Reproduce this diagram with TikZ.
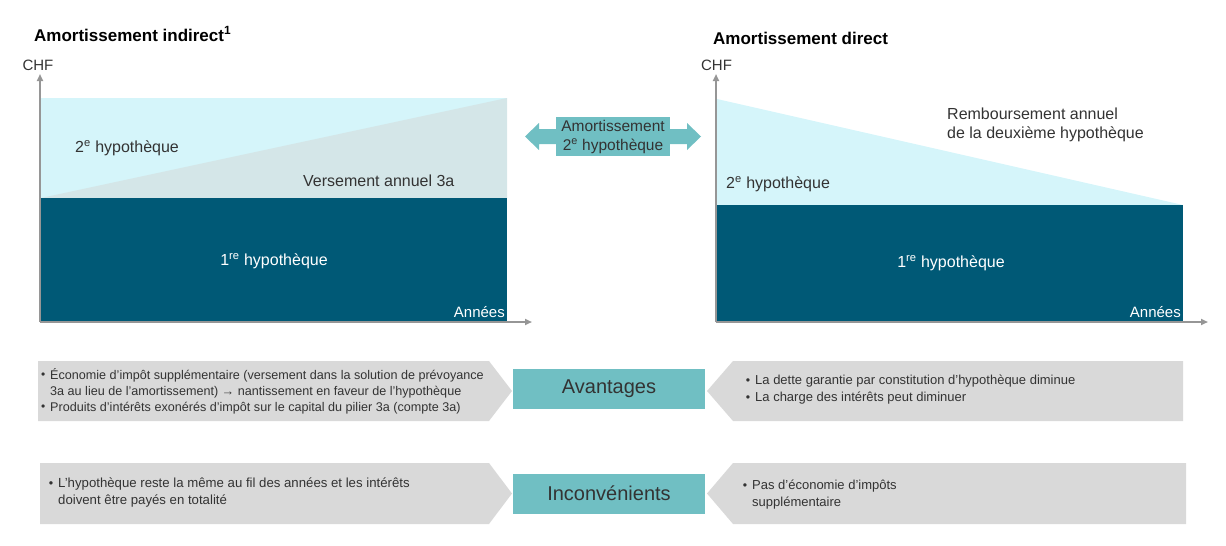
\documentclass[tikz,border=0pt]{standalone}
\usepackage{fontspec}
\setmainfont{Liberation Sans}
\usetikzlibrary{arrows.meta}
\definecolor{darkteal}{RGB}{0,89,118}
\definecolor{lightcyan}{RGB}{213,245,250}
\definecolor{greyteal}{RGB}{212,230,232}
\definecolor{tealbox}{RGB}{112,191,195}
\definecolor{panelgrey}{RGB}{217,217,217}
\definecolor{axisgrey}{RGB}{150,150,150}
\definecolor{txt}{RGB}{51,51,51}
\newcommand\bul{\llap{\raisebox{0.05ex}{\scalebox{0.95}{•}}\hspace{5pt}}}
\tikzset{
  axis/.style={draw=axisgrey, line width=1.8pt, -{Triangle[length=7pt,width=6pt]}},
  lbl/.style={inner sep=0pt, text=txt, font=\fontsize{16}{19}\selectfont},
  wlbl/.style={inner sep=0pt, text=white, font=\fontsize{16}{19}\selectfont},
  title/.style={inner sep=0pt, text=black, font=\fontsize{17}{20}\selectfont\bfseries},
  panel/.style={fill=panelgrey, draw=none},
  keybox/.style={fill=tealbox, draw=none, text=txt, inner sep=0pt, font=\fontsize{20}{24}\selectfont},
  bodytxt/.style={inner sep=0pt, text=txt, align=left},
}
\begin{document}
\begin{tikzpicture}[x=1pt,y=-1pt]
\useasboundingbox (0,0) rectangle (1226,546);

% ---------- left chart ----------
\fill[lightcyan] (41,98) rectangle (507,198);
\fill[greyteal] (41,198) -- (507,98) -- (507,198) -- cycle;
\fill[darkteal] (41,198) rectangle (507,322);
\coordinate (LO) at (40,322);
\coordinate (LY) at (40,74);
\coordinate (LX) at (532,322);
\draw[axis] (LO) -- (LY);
\draw[axis] (LO) -- (LX);
\node[title, anchor=base west] (tl) at (34,41) {Amortissement indirect\textsuperscript{1}};
\node[lbl, font=\fontsize{15}{18}\selectfont] (chfl) at (38,65) {CHF};
\node[lbl, anchor=west] (h2l) at (75,148) {2\textsuperscript{e} hypothèque};
\node[lbl, anchor=west] (v3a) at (303,181) {Versement annuel 3a};
\node[wlbl] (h1l) at (274,261) {1\textsuperscript{re} hypothèque};
\node[wlbl, anchor=east, font=\fontsize{15}{18}\selectfont] (anl) at (505,312) {Années};

% ---------- right chart ----------
\fill[lightcyan] (717,99) -- (1183,205) -- (717,205) -- cycle;
\fill[darkteal] (717,205) rectangle (1183,322);
\coordinate (RO) at (716,322);
\coordinate (RY) at (716,74);
\coordinate (RX) at (1208,322);
\draw[axis] (RO) -- (RY);
\draw[axis] (RO) -- (RX);
\node[title, anchor=base west] (tr) at (713,44) {Amortissement direct};
\node[lbl, font=\fontsize{15}{18}\selectfont] (chfr) at (716.5,65) {CHF};
\node[lbl, anchor=west, align=left] (remb) at (947,124.5) {Remboursement annuel\\de la deuxième hypothèque};
\node[lbl, anchor=west] (h2r) at (726,184) {2\textsuperscript{e} hypothèque};
\node[wlbl] (h1r) at (951,263) {1\textsuperscript{re} hypothèque};
\node[wlbl, anchor=east, font=\fontsize{15}{18}\selectfont] (anr) at (1181,312) {Années};

% ---------- middle double arrow ----------
\fill[tealbox] (525,136.5) -- (539,123) -- (539,129) -- (687,129) -- (687,123)
  -- (701,136.5) -- (687,150) -- (687,144) -- (539,144) -- (539,150) -- cycle;
\node[keybox, minimum width=114pt, minimum height=39pt, align=center,
  font=\fontsize{15.5}{19}\selectfont] (amo) at (613,136.5)
  {Amortissement\\2\textsuperscript{e} hypothèque};

% ---------- row 1 : Avantages ----------
\fill[panel] (38,361) -- (489,361) -- (512,391) -- (489,421) -- (38,421) -- cycle;
\fill[panel] (733,361) -- (1183,361) -- (1183,421) -- (733,421) -- (707,391) -- cycle;
\node[keybox, minimum width=192pt, minimum height=40pt] (av) at (609,389) {Avantages};
\node[bodytxt, anchor=west, font=\fontsize{12.6}{16}\selectfont] (avl) at (50,391)
  {\bul Économie d’impôt supplémentaire (versement dans la solution de prévoyance\\
   3a au lieu de l’amortissement) → nantissement en faveur de l’hypothèque\\
   \bul Produits d’intérêts exonérés d’impôt sur le capital du pilier 3a (compte 3a)};
\node[bodytxt, anchor=west, font=\fontsize{13}{17}\selectfont] (avr) at (755,389.5)
  {\bul La dette garantie par constitution d’hypothèque diminue\\
   \bul La charge des intérêts peut diminuer};

% ---------- row 2 : Inconvénients ----------
\fill[panel] (40,463) -- (489,463) -- (512,493.5) -- (489,524) -- (40,524) -- cycle;
\fill[panel] (733,463) -- (1186,463) -- (1186,524) -- (733,524) -- (707,493.5) -- cycle;
\node[keybox, minimum width=192pt, minimum height=40pt] (inc) at (609,493.5) {Inconvénients};
\node[bodytxt, anchor=west, font=\fontsize{13.2}{17}\selectfont] (inl) at (58,492.5)
  {\bul L’hypothèque reste la même au fil des années et les intérêts\\
   doivent être payés en totalité};
\node[bodytxt, anchor=west, font=\fontsize{13}{17}\selectfont] (inr) at (752,494.5)
  {\bul Pas d’économie d’impôts\\
   supplémentaire};
\end{tikzpicture}
\end{document}
